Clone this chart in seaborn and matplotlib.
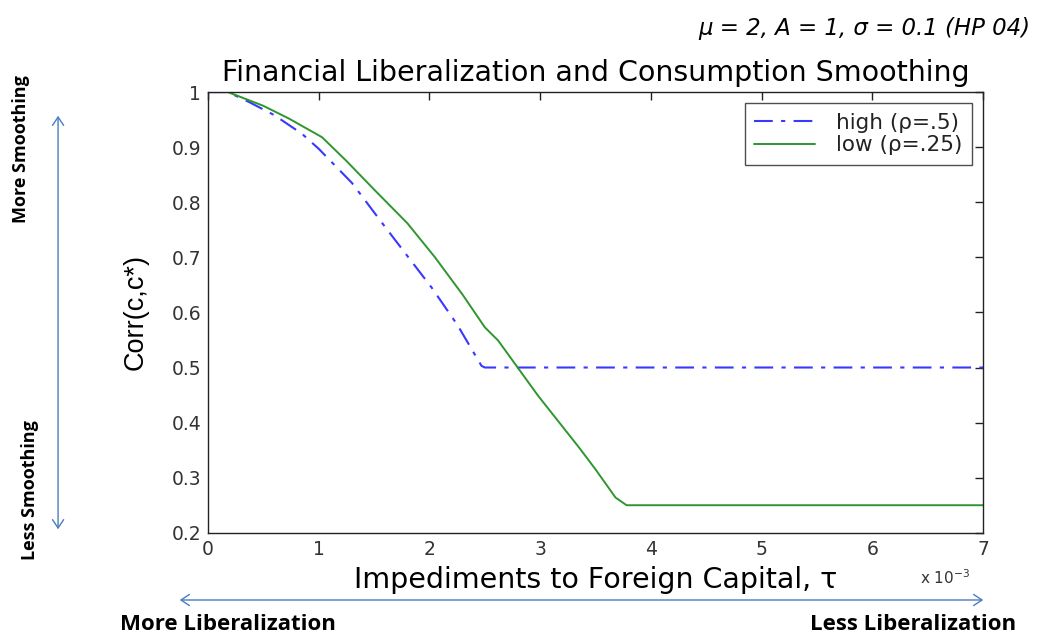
import matplotlib
matplotlib.use("Agg")
import matplotlib.pyplot as plt
import seaborn as sns
import pandas as pd
from matplotlib.ticker import FuncFormatter

# ---- data (tau in units of 1e-3) ----
tau_high = [0, 0.18, 0.37, 0.6, 0.85, 1.0, 1.3, 1.6, 2.02, 2.25, 2.47, 2.5, 7.0]
corr_high = [1.0, 1.0, 0.982, 0.958, 0.924, 0.897, 0.835, 0.755, 0.645, 0.578, 0.503, 0.5, 0.5]

tau_low = [0, 0.18, 0.5, 0.73, 1.03, 1.25, 1.51, 1.8, 2.05, 2.3, 2.5, 2.62, 2.98, 3.35, 3.5, 3.68, 3.78, 7.0]
corr_low = [1.0, 1.0, 0.975, 0.952, 0.918, 0.875, 0.821, 0.762, 0.70, 0.632, 0.573, 0.549, 0.449, 0.355, 0.315, 0.264, 0.25, 0.25]

labels = ["high (\u03c1=.5)", "low (\u03c1=.25)"]
xticks = [0, 1, 2, 3, 4, 5, 6, 7]
yticks = [0.2, 0.3, 0.4, 0.5, 0.6, 0.7, 0.8, 0.9, 1.0]

sns.set_theme(style="white")
plt.rcParams['font.family'] = ['DejaVu Sans']
plt.rcParams['text.color'] = 'black'
plt.rcParams['axes.labelcolor'] = 'black'

fig = plt.figure(figsize=(10.37, 6.35), dpi=100)
ax = fig.add_axes([0.2006, 0.161, 0.7474, 0.694])

df_high = pd.DataFrame({"tau": tau_high, "corr": corr_high})
df_low = pd.DataFrame({"tau": tau_low, "corr": corr_low})
sns.lineplot(data=df_high, x="tau", y="corr", ax=ax, color="#3838ff", lw=1.5,
             linestyle=(0, (9, 4, 2, 4)), label=labels[0], estimator=None, sort=False)
sns.lineplot(data=df_low, x="tau", y="corr", ax=ax, color="#2e962e", lw=1.4,
             label=labels[1], estimator=None, sort=False)

ax.set_xlim(0, 7)
ax.set_ylim(0.2, 1.0)
ax.set_xticks(xticks)
ax.set_yticks(yticks)
ax.xaxis.set_major_formatter(FuncFormatter(lambda v, p: f"{v:g}"))
ax.yaxis.set_major_formatter(FuncFormatter(lambda v, p: f"{v:g}"))
ax.tick_params(direction="in", length=6, width=1, top=True, right=True,
               labelsize=13.5, labelcolor="#333333", color="#222222", pad=5)
for s in ax.spines.values():
    s.set_color("#222222")
    s.set_linewidth(1.0)

ax.set_title("Financial Liberalization and Consumption Smoothing", fontsize=20.5, pad=8,
             color="black")
ax.set_xlabel("Impediments to Foreign Capital, \u03c4", fontsize=20.5, labelpad=5)
ax.set_ylabel("Corr(c,c*)", fontsize=19.5, labelpad=16, family="Liberation Sans")

leg = ax.legend(loc="upper right", fontsize=15.5, frameon=True, fancybox=False,
                borderaxespad=0.5, handlelength=2.8, borderpad=0.45, labelspacing=0.12,
                handletextpad=1.0)
leg.get_frame().set_edgecolor("#222222")
leg.get_frame().set_linewidth(1.0)
for t in leg.get_texts():
    t.set_color("#222222")

fig.text(945 / 1037, 1 - 578 / 635, "x 10$^{-3}$", fontsize=11, ha="center", va="center",
         color="#333333")

fig.text(0.994, 0.955, "\u03bc = 2, A = 1, \u03c3 = 0.1 (HP 04)", fontsize=16.5,
         style="italic", ha="right", va="center")

# side annotations
fig.text(0.02, 0.765, "More Smoothing", rotation=90, fontsize=13, fontweight="bold",
         ha="center", va="center", family="Open Sans")
fig.text(0.029, 0.228, "Less Smoothing", rotation=90, fontsize=13, fontweight="bold",
         ha="center", va="center", family="Open Sans")
arrow_col = "#4a7cc0"
fig.add_artist(matplotlib.patches.FancyArrowPatch(
    (0.056, 1 - 532 / 635), (0.056, 1 - 113 / 635), transform=fig.transFigure,
    arrowstyle="<->,head_length=6,head_width=4", color=arrow_col, lw=1.0))
fig.add_artist(matplotlib.patches.FancyArrowPatch(
    (177 / 1037, 1 - 600 / 635), (986 / 1037, 1 - 600 / 635), transform=fig.transFigure,
    arrowstyle="<->,head_length=6,head_width=4", color=arrow_col, lw=1.0))
fig.text(228 / 1037, 1 - 624 / 635, "More Liberalization", fontsize=16, fontweight="bold",
         ha="center", va="center", family="Open Sans")
fig.text(913 / 1037, 1 - 624 / 635, "Less Liberalization", fontsize=16, fontweight="bold",
         ha="center", va="center", family="Open Sans")

fig.savefig("out.png", dpi=100)
